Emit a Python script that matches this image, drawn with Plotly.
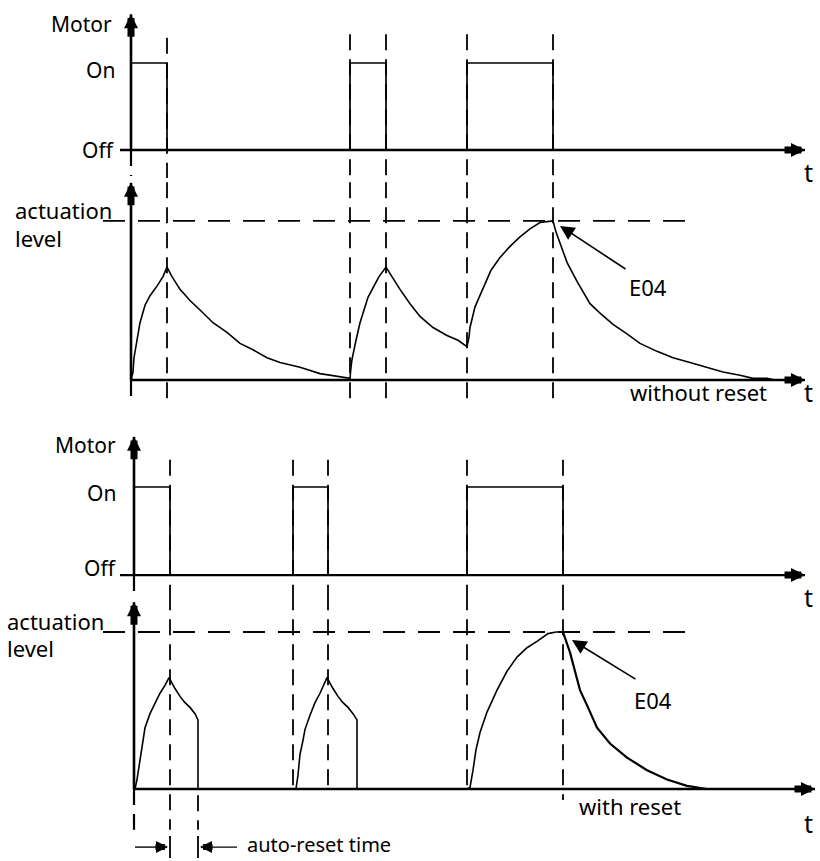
import plotly.graph_objects as go

FONT = "Noto Sans"

# ---------------- Top diagram: without reset ----------------
top_motor_t = [0, 0, 3.6, 3.6, 21.9, 21.9, 25.5, 25.5, 33.6, 33.6, 42.2, 42.2]
top_motor_v = [0, 1, 1, 0, 0, 1, 1, 0, 0, 1, 1, 0]
top_events = [3.6, 21.9, 25.5, 33.6, 42.2]

top_level_t = [0, 0.2, 0.3, 0.6, 0.9, 1.4, 1.9, 2.6, 3.2, 3.6,
               4.1, 4.9, 5.9, 6.9, 8.2, 9.6, 10.9, 12.2, 13.6, 14.9, 16.9, 18.9, 20.9, 21.9,
               22.0, 22.1, 22.5, 22.9, 23.2, 23.7, 24.2, 24.8, 25.5,
               26.2, 26.9, 27.9, 28.9, 30.2, 31.6, 32.7, 33.6,
               33.8, 33.9, 34.4, 35.2, 36.0, 36.9, 37.9, 38.9, 39.9, 40.9, 42.2,
               42.5, 42.9, 43.6, 44.6, 45.9, 46.9, 48.2, 49.6, 50.9, 52.6, 54.2, 55.9, 57.6,
               59.2, 60.9, 62.2, 63.6, 64.4]
top_level_v = [0, 0.05, 0.14, 0.25, 0.36, 0.47, 0.53, 0.59, 0.65, 0.71,
               0.65, 0.57, 0.50, 0.44, 0.36, 0.30, 0.23, 0.19, 0.14, 0.11, 0.08, 0.04, 0.02, 0.01,
               0.08, 0.13, 0.25, 0.36, 0.42, 0.52, 0.58, 0.65, 0.71,
               0.64, 0.57, 0.48, 0.40, 0.33, 0.28, 0.25, 0.21,
               0.27, 0.33, 0.46, 0.58, 0.69, 0.77, 0.84, 0.90, 0.95, 0.99, 1.0,
               0.93, 0.86, 0.74, 0.62, 0.48, 0.42, 0.35, 0.29, 0.23, 0.18, 0.14, 0.11, 0.08,
               0.05, 0.03, 0.01, 0.01, 0]

# ---------------- Bottom diagram: with reset ----------------
bot_motor_t = [0, 0, 3.6, 3.6, 15.9, 15.9, 19.4, 19.4, 33.3, 33.3, 42.9, 42.9]
bot_motor_v = [0, 1, 1, 0, 0, 1, 1, 0, 0, 1, 1, 0]
bot_events = [3.6, 15.9, 19.4, 33.3, 42.9]
reset_end = 6.4

bot_pulse_t = [0, 0.1, 0.3, 0.5, 0.8, 1.1, 1.6, 2.1, 2.6, 3.1, 3.5, 4.1, 4.6, 5.1, 5.6, 6.1, 6.4, 6.4, None,
               15.9, 16.2, 16.4, 16.6, 16.9, 17.1, 17.6, 18.1, 18.6, 19.3, 19.9, 20.4, 20.9, 21.4, 21.9,
               22.3, 22.3, None,
               33.3, 33.6, 33.9, 34.2, 34.6, 35.3, 36.3, 37.3, 38.3, 39.3, 40.3, 41.4, 42.2, 42.9]
bot_pulse_v = [0, 0, 0.06, 0.15, 0.28, 0.39, 0.48, 0.55, 0.61, 0.66, 0.71, 0.64, 0.59, 0.55, 0.52, 0.48,
               0.44, 0, None,
               0, 0, 0.09, 0.22, 0.31, 0.38, 0.47, 0.55, 0.61, 0.71, 0.64, 0.59, 0.55, 0.52, 0.48,
               0.44, 0, None,
               0, 0.01, 0.12, 0.25, 0.36, 0.49, 0.63, 0.75, 0.84, 0.90, 0.94, 0.99, 1.0, 1.0]
bot_decay_t = [42.9, 43.2, 43.6, 44.1, 44.6, 45.4, 46.3, 47.6, 49.3, 51.3, 53.3, 55.3, 57.3]
bot_decay_v = [1.0, 0.95, 0.87, 0.75, 0.63, 0.52, 0.39, 0.29, 0.20, 0.12, 0.06, 0.02, 0]

fig = go.Figure()


def line(xs, ys, xa, ya, width=1.6, dash=None):
    fig.add_trace(go.Scatter(x=xs, y=ys, mode="lines",
                             line=dict(color="black", width=width, dash=dash),
                             xaxis=xa, yaxis=ya, hoverinfo="skip", showlegend=False))


def label(text, x, y, xa, ya, xanchor="center", size=21):
    fig.add_annotation(text=text, x=x, y=y, xref=xa, yref=ya, xanchor=xanchor,
                       yanchor="middle", showarrow=False,
                       font=dict(family=FONT, size=size, color="black"))


def head(x, y, xa, ya, ax, ay, w=7, s=0.4):
    fig.add_annotation(text="", x=x, y=y, xref=xa, yref=ya, ax=ax, ay=ay,
                       showarrow=True, arrowhead=2, arrowwidth=w, arrowsize=s,
                       arrowcolor="black")


def pointer(x, y, tx, ty, xa, ya):
    fig.add_annotation(text="", x=x, y=y, xref=xa, yref=ya, ax=tx, ay=ty,
                       axref=xa, ayref=ya, showarrow=True, arrowhead=2,
                       arrowwidth=1.6, arrowsize=1.8, arrowcolor="black")


DASH_V = "16px,9px"
DASH_H = "22px,13px"

# ===== Panel 1: Motor (without reset) =====
line([0, 0], [0, 1.56], "x", "y", 2.6)
line([0, 0], [0, -0.3], "x", "y", 2.2, DASH_V)
line([-1.1, 67.4], [0, 0], "x", "y", 2.6)
head(0, 1.56, "x", "y", 0, 24)
head(67.4, 0, "x", "y", -22, 0)
line(top_motor_t, top_motor_v, "x", "y", 1.7)
for i, ev in enumerate(top_events):
    line([ev, ev], [1.29 if i == 0 else 1.33, -0.5], "x", "y", 1.8, DASH_V)
label("Motor", -1.7, 1.45, "x", "y", "right")
label("On", -1.4, 0.92, "x", "y", "right")
label("Off", -1.5, 0.0, "x", "y", "right")
label("t", 67.7, -0.25, "x", "y", "center", 25)

# ===== Panel 2: actuation level (without reset) =====
line([0, 0], [0, 1.24], "x", "y2", 2.6)
line([0, 0], [0, -0.126], "x", "y2", 2.2, DASH_V)
line([0, 67.4], [0, 0], "x", "y2", 2.6)
head(0, 1.24, "x", "y2", 0, 24)
head(67.4, 0, "x", "y2", -22, 0)
line([-2.8, 55.4], [1, 1], "x", "y2", 1.8, DASH_H)
for ev in top_events:
    line([ev, ev], [1.4, -0.126], "x", "y2", 1.8, DASH_V)
line(top_level_t, top_level_v, "x", "y2", 1.6)
pointer(42.9, 0.969, 49.6, 0.692, "x", "y2")
label("E04", 51.7, 0.585, "x", "y2", "center", 22)
label("actuation", -11.8, 1.07, "x", "y2", "left", 22)
label("level", -11.8, 0.89, "x", "y2", "left", 22)
label("without reset", 56.7, -0.075, "x", "y2", "center", 22)
label("t", 67.7, -0.075, "x", "y2", "center", 25)

# ===== Panel 3: Motor (with reset) =====
line([0, 0], [0, 1.57], "x2", "y3", 2.6)
line([0, 0], [0, -0.2], "x2", "y3", 2.2, DASH_V)
line([-1.4, 67.1], [0, 0], "x2", "y3", 2.2)
head(0, 1.57, "x2", "y3", 0, 24)
head(67.1, 0, "x2", "y3", -22, 0)
line(bot_motor_t, bot_motor_v, "x2", "y3", 1.7)
for ev in bot_events:
    line([ev, ev], [1.31, -0.5], "x2", "y3", 1.8, DASH_V)
label("Motor", -1.6, 1.48, "x2", "y3", "right")
label("On", -1.6, 0.93, "x2", "y3", "right")
label("Off", -1.6, 0.08, "x2", "y3", "right")
label("t", 67.4, -0.25, "x2", "y3", "center", 25)

# ===== Panel 4: actuation level (with reset) =====
line([0, 0], [0, 1.19], "x2", "y4", 2.6)
line([0, 0], [0, -0.26], "x2", "y4", 2.2, DASH_V)
line([0, 68.1], [0, 0], "x2", "y4", 2.4)
head(0, 1.19, "x2", "y4", 0, 24)
head(68.1, 0, "x2", "y4", -22, 0)
line([-3.1, 56.1], [1, 1], "x2", "y4", 1.8, DASH_H)
for i, ev in enumerate(bot_events):
    low = -0.26 if i == 0 else (-0.07 if i == len(bot_events) - 1 else -0.01)
    line([ev, ev], [1.4, low], "x2", "y4", 1.8, DASH_V)
line([reset_end, reset_end], [-0.04, -0.26], "x2", "y4", 1.8, DASH_V)
line(bot_pulse_t, bot_pulse_v, "x2", "y4", 1.6)
line(bot_decay_t, bot_decay_v, "x2", "y4", 2.2)
pointer(43.8, 0.949, 50.3, 0.694, "x2", "y4")
label("E04", 51.9, 0.567, "x2", "y4", "center", 22)
label("actuation", -12.9, 1.07, "x2", "y4", "left", 22)
label("level", -12.9, 0.90, "x2", "y4", "left", 22)
label("with reset", 49.6, -0.108, "x2", "y4", "center", 22)
label("t", 67.4, -0.217, "x2", "y4", "center", 25)

# auto-reset time marker
line([3.6, 3.6], [-0.30, -0.44], "x2", "y4", 1.8)
line([reset_end, reset_end], [-0.30, -0.44], "x2", "y4", 1.8)
line([0.1, 3.3], [-0.37, -0.37], "x2", "y4", 1.4)
line([6.7, 10.3], [-0.37, -0.37], "x2", "y4", 1.4)
head(3.4, -0.37, "x2", "y4", -14, 0, 6, 0.4)
head(6.6, -0.37, "x2", "y4", 14, 0, 6, 0.4)
label("auto-reset time", 11.1, -0.355, "x2", "y4", "left", 20)

hidden = dict(visible=False, fixedrange=True)
fig.update_layout(
    width=820, height=861,
    margin=dict(l=0, r=0, t=0, b=0),
    paper_bgcolor="white", plot_bgcolor="white",
    showlegend=False,
    xaxis=dict(domain=[0, 1], range=[-13.1, 68.9], anchor="y", **hidden),
    xaxis2=dict(domain=[0, 1], range=[-13.4, 68.6], anchor="y3", **hidden),
    yaxis=dict(domain=[0.7933, 1.0], range=[-0.3218, 1.7241], anchor="x", **hidden),
    yaxis2=dict(domain=[0.5122, 0.7933], range=[-0.2516, 1.2704], anchor="x", **hidden),
    yaxis3=dict(domain=[0.3031, 0.5122], range=[-0.2841, 1.7614], anchor="x2", **hidden),
    yaxis4=dict(domain=[0.0, 0.3031], range=[-0.4586, 1.2038], anchor="x2", **hidden),
)

fig.write_html(
    "out.html",
    config={"displayModeBar": False, "staticPlot": True},
    post_script="document.body.style.margin='0';document.body.style.overflow='hidden';",
)
